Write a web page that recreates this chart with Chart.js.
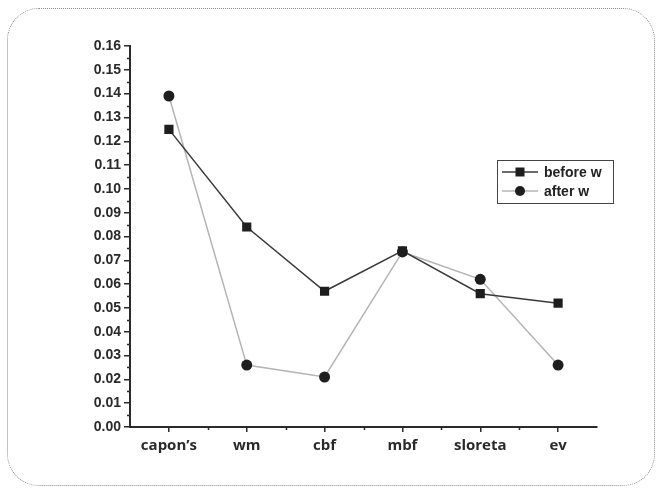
<!DOCTYPE html>
<html>
<head>
<meta charset="utf-8">
<script src="https://cdn.jsdelivr.net/npm/chart.js@4"></script>
<style>
  html, body { margin: 0; padding: 0; background: #fff; }
  #wrap { position: relative; width: 662px; height: 494px; }
  #frame {
    position: absolute; left: 7px; top: 8px; width: 648px; height: 478px;
    border: 1px dotted #8a8a8a; border-radius: 32px; box-sizing: border-box;
    pointer-events: none;
  }
  canvas { position: absolute; left: 0; top: 0; }
</style>
</head>
<body>
<div id="wrap">
  <canvas id="chart" width="662" height="494"></canvas>
  <div id="frame"></div>
</div>
<script>
const categories = ["capon\u2019s", "wm", "cbf", "mbf", "sloreta", "ev"];
const beforeW = [0.125, 0.084, 0.057, 0.074, 0.056, 0.052];
const afterW  = [0.139, 0.026, 0.021, 0.0735, 0.062, 0.026];
const yTicks = [0, 0.01, 0.02, 0.03, 0.04, 0.05, 0.06, 0.07, 0.08, 0.09, 0.10, 0.11, 0.12, 0.13, 0.14, 0.15, 0.16];

const axisColor = '#2a2a2a';

// Minor tick marks on both axes, drawn halfway between the major ones
const minorTicks = {
  id: 'minorTicks',
  afterDraw(chart) {
    const ctx = chart.ctx;
    const y = chart.scales.y, x = chart.scales.x;
    ctx.save();
    ctx.strokeStyle = axisColor;
    ctx.lineWidth = 1.5;
    for (let i = 0; i < yTicks.length - 1; i++) {
      const v = (yTicks[i] + yTicks[i + 1]) / 2;
      const py = Math.round(y.getPixelForValue(v)) + 0.5;
      ctx.beginPath();
      ctx.moveTo(x.left - 3, py);
      ctx.lineTo(x.left, py);
      ctx.stroke();
    }
    const step = (x.right - x.left) / categories.length;
    for (let i = 1; i < categories.length; i++) {
      const px = Math.round(x.left + step * i) + 0.5;
      ctx.beginPath();
      ctx.moveTo(px, y.bottom);
      ctx.lineTo(px, y.bottom + 3);
      ctx.stroke();
    }
    ctx.restore();
  }
};

// Boxed legend inside the plot area
const boxLegend = {
  id: 'boxLegend',
  afterDraw(chart) {
    const ctx = chart.ctx;
    const bx = 497, by = 160, bw = 116, bh = 43;
    ctx.save();
    ctx.strokeStyle = '#444';
    ctx.lineWidth = 1;
    ctx.strokeRect(bx + 0.5, by + 0.5, bw, bh);
    chart.data.datasets.forEach((ds, i) => {
      const cy = by + 12 + i * 19;
      ctx.strokeStyle = ds.borderColor;
      ctx.lineWidth = ds.borderWidth;
      ctx.beginPath();
      ctx.moveTo(bx + 5, cy);
      ctx.lineTo(bx + 41, cy);
      ctx.stroke();
      ctx.fillStyle = ds.pointBackgroundColor;
      if (ds.pointStyle === 'rect') {
        ctx.fillRect(bx + 23 - 4.5, cy - 4.5, 9, 9);
      } else {
        ctx.beginPath();
        ctx.arc(bx + 23, cy, 5, 0, Math.PI * 2);
        ctx.fill();
      }
      ctx.fillStyle = '#222';
      ctx.font = 'bold 14px "Liberation Sans", Arial, sans-serif';
      ctx.textBaseline = 'middle';
      ctx.fillText(ds.label, bx + 47, cy + 1);
    });
    ctx.restore();
  }
};

new Chart(document.getElementById('chart'), {
  type: 'line',
  data: {
    labels: categories,
    datasets: [
      {
        label: 'before w',
        data: beforeW,
        borderColor: '#3a3a3a',
        borderWidth: 1.5,
        pointStyle: 'rect',
        pointRadius: 6.5,
        pointBackgroundColor: '#1e1e1e',
        pointBorderColor: '#1e1e1e',
        pointBorderWidth: 0,
        tension: 0
      },
      {
        label: 'after w',
        data: afterW,
        borderColor: '#b4b4b4',
        borderWidth: 1.5,
        pointStyle: 'circle',
        pointRadius: 5.5,
        pointBackgroundColor: '#1e1e1e',
        pointBorderColor: '#1e1e1e',
        pointBorderWidth: 0,
        tension: 0
      }
    ]
  },
  options: {
    responsive: false,
    animation: false,
    devicePixelRatio: 1,
    layout: { padding: { left: 60, right: 65, top: 46, bottom: 27 } },
    plugins: { legend: { display: false }, tooltip: { enabled: false } },
    scales: {
      x: {
        offset: true,
        grid: { display: true, drawOnChartArea: false, drawTicks: true, tickLength: 5, color: axisColor, lineWidth: 1.5, offset: false },
        border: { display: true, color: axisColor, width: 2 },
        ticks: {
          color: '#2a2a2a', padding: 5, maxRotation: 0, autoSkip: false,
          font: { family: '"Open Sans", sans-serif', weight: 'bold', size: 15 }
        },
        afterFit(scale) { scale.height = 40; }
      },
      y: {
        min: 0, max: 0.16,
        afterBuildTicks(scale) { scale.ticks = yTicks.map(v => ({ value: v })); },
        grid: { display: true, drawOnChartArea: false, drawTicks: true, tickLength: 6, color: axisColor, lineWidth: 1.5 },
        border: { display: true, color: axisColor, width: 2 },
        ticks: {
          color: '#2a2a2a', padding: 3,
          font: { family: '"Liberation Sans", Arial, sans-serif', weight: 'bold', size: 14 },
          callback: v => Number(v).toFixed(2)
        },
        afterFit(scale) { scale.width = 70; }
      }
    }
  },
  plugins: [minorTicks, boxLegend]
});
</script>
</body>
</html>
